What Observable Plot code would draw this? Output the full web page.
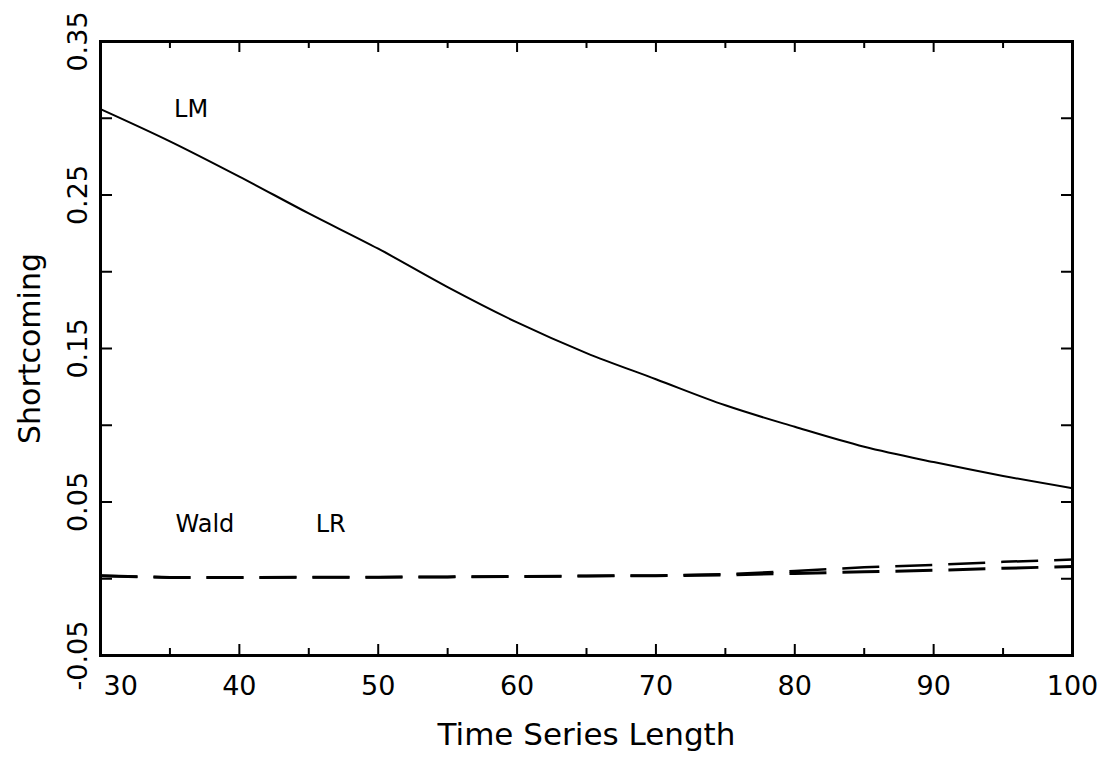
<!DOCTYPE html>
<html>
<head>
<meta charset="utf-8">
<script src="https://cdn.jsdelivr.net/npm/d3@7"></script>
<script src="https://cdn.jsdelivr.net/npm/@observablehq/plot@0.6"></script>
<style>
  html, body { margin: 0; padding: 0; background: #fff; }
  #chart svg { display: block; }
</style>
</head>
<body>
<div id="chart"></div>
<script>
// ---- data ----
const lengths = [30, 35, 40, 45, 50, 55, 60, 65, 70, 75, 80, 85, 90, 95, 100];
const lmValues = [0.306, 0.285, 0.262, 0.238, 0.215, 0.190, 0.167, 0.147, 0.130, 0.113, 0.099, 0.086, 0.076, 0.067, 0.059];
const waldValues = [0.002, 0.0008, 0.0008, 0.001, 0.001, 0.0012, 0.0015, 0.0018, 0.002, 0.0025, 0.0035, 0.0045, 0.0055, 0.0068, 0.008];
const lrValues = [0.002, 0.0008, 0.0008, 0.001, 0.001, 0.0012, 0.0015, 0.0018, 0.002, 0.003, 0.005, 0.0075, 0.009, 0.011, 0.0125];

const xTickLabels = [30, 40, 50, 60, 70, 80, 90, 100];
const xMajorTicks = [40, 50, 60, 70, 80, 90];
const xMinorTicks = [35, 45, 55, 65, 75, 85, 95];
const yTicks = [0.0, 0.05, 0.10, 0.15, 0.20, 0.25, 0.30];
const yTickLabels = ["-0.05", "0.05", "0.15", "0.25", "0.35"];

const seriesLabels = [
  {name: "LM", x: 35.3, y: 0.3057},
  {name: "Wald", x: 35.4, y: 0.0357},
  {name: "LR", x: 45.5, y: 0.0357}
];

const xTitle = "Time Series Length";
const yTitle = "Shortcoming";

// ---- layout ----
const W = 1104, H = 759;
const mL = 100, mR = 32, mT = 41, mB = 104;
const innerW = W - mL - mR, innerH = H - mT - mB;
const font = "DejaVu Sans";

const lm = lengths.map((x, i) => ({x, y: lmValues[i]}));
const wald = lengths.map((x, i) => ({x, y: waldValues[i]}));
const lr = lengths.map((x, i) => ({x, y: lrValues[i]}));

const chart = Plot.plot({
  width: W, height: H,
  marginLeft: mL, marginRight: mR, marginTop: mT, marginBottom: mB,
  style: {fontFamily: font, background: "#fff", color: "#000"},
  x: {domain: [30, 100], axis: null},
  y: {domain: [-0.05, 0.35], axis: null},
  marks: [
    // inward ticks
    Plot.ruleX(xMajorTicks, {x: d => d, insetTop: innerH - 11, stroke: "#000", strokeWidth: 2}),
    Plot.ruleX(xMinorTicks, {x: d => d, insetTop: innerH - 7, stroke: "#000", strokeWidth: 2}),
    Plot.ruleX(xMajorTicks, {x: d => d, insetBottom: innerH - 11, stroke: "#000", strokeWidth: 2}),
    Plot.ruleX(xMinorTicks, {x: d => d, insetBottom: innerH - 7, stroke: "#000", strokeWidth: 2}),
    Plot.ruleY(yTicks, {y: d => d, insetRight: innerW - 12, stroke: "#000", strokeWidth: 2}),
    Plot.ruleY(yTicks, {y: d => d, insetLeft: innerW - 11, stroke: "#000", strokeWidth: 2}),
    // series
    Plot.line(lm, {x: "x", y: "y", stroke: "#000", strokeWidth: 2, curve: "monotone-x"}),
    Plot.line(wald, {x: "x", y: "y", stroke: "#000", strokeWidth: 3, strokeDasharray: "37,16", strokeLinecap: "butt"}),
    Plot.line(lr, {x: "x", y: "y", stroke: "#000", strokeWidth: 2.5, strokeDasharray: "37,16", strokeLinecap: "butt"}),
    // series labels
    Plot.text(seriesLabels, {x: "x", y: "y", text: "name", textAnchor: "start", lineAnchor: "middle", fontSize: 24, fill: "#000"}),
    // frame
    Plot.frame({stroke: "#000", strokeWidth: 3}),
    // x tick labels
    Plot.text(xTickLabels.filter(d => d !== 30), {x: d => d, text: d => String(d), frameAnchor: "bottom", dy: 31, textAnchor: "middle", lineAnchor: "middle", fontSize: 27, fill: "#000", letterSpacing: 1}),
    Plot.text(xTickLabels.filter(d => d === 30), {x: d => d, text: d => String(d), frameAnchor: "bottom", dy: 31, dx: 3, textAnchor: "start", lineAnchor: "middle", fontSize: 27, fill: "#000", letterSpacing: 1}),
    // y tick labels (rotated)
    Plot.text(yTickLabels, {y: d => +d, text: d => d, frameAnchor: "left", dx: -22, rotate: -90, textAnchor: "middle", lineAnchor: "middle", fontSize: 27, fill: "#000"}),
    // axis titles
    Plot.text([xTitle], {text: d => d, frameAnchor: "bottom", dy: 80, textAnchor: "middle", lineAnchor: "middle", fontSize: 31, fill: "#000", letterSpacing: 3}),
    Plot.text([yTitle], {text: d => d, frameAnchor: "left", dx: -70, rotate: -90, textAnchor: "middle", lineAnchor: "middle", fontSize: 30, fill: "#000", letterSpacing: 3})
  ]
});

document.getElementById("chart").appendChild(chart);
</script>
</body>
</html>
